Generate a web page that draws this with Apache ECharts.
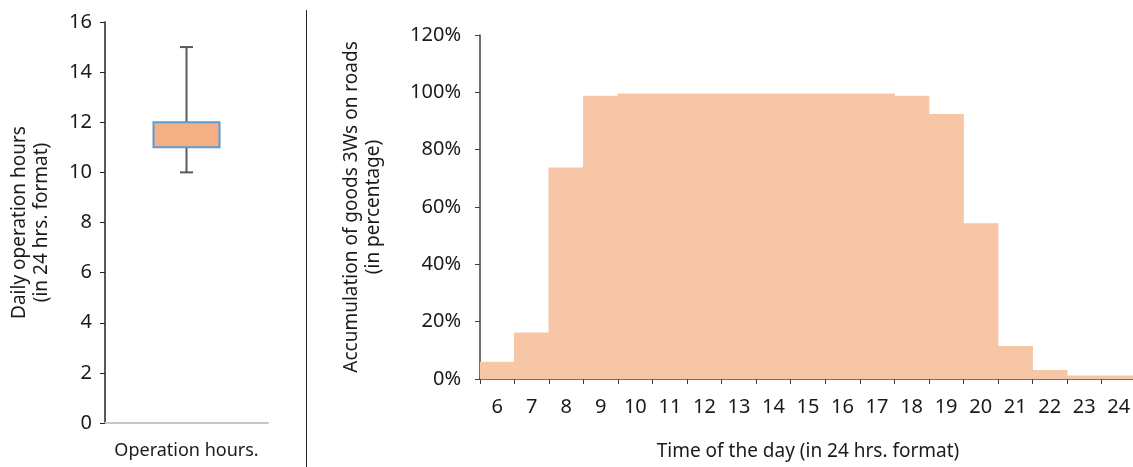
<!DOCTYPE html>
<html><head><meta charset="utf-8">
<script src="https://cdn.jsdelivr.net/npm/echarts@6/dist/echarts.min.js"></script>
<style>html,body{margin:0;padding:0;background:#fff}#c{width:1133px;height:467px}</style>
</head><body><div id="c"></div>
<script>
const boxCategories = ['Operation hours.'];
const boxStats = [[10, 11, 11.5, 12, 15]]; // min, Q1, median, Q3, max
const boxTicks = [0, 2, 4, 6, 8, 10, 12, 14, 16];

const hours = ['6','7','8','9','10','11','12','13','14','15','16','17','18','19','20','21','22','23','24'];
const accumulation = [6.0, 16.2, 73.8, 98.8, 99.6, 99.6, 99.6, 99.6, 99.6, 99.6, 99.6, 99.6, 98.8, 92.4, 54.3, 11.5, 3.1, 1.2, 1.2];

const FONT = 'Noto Sans';
const TXT = '#1a1a1a';
const chart = echarts.init(document.getElementById('c'), null, {renderer: 'canvas'});
chart.setOption({
  animation: false,
  textStyle: {fontFamily: FONT, color: TXT},
  graphic: [{type: 'line', shape: {x1: 306.5, y1: 10, x2: 306.5, y2: 467}, style: {stroke: '#222', lineWidth: 1}}],
  grid: [
    {left: 105, top: 22, width: 163, bottom: 44, outerBoundsMode: 'none', containLabel: false},
    {left: 480, top: 35, width: 656, bottom: 88, outerBoundsMode: 'none', containLabel: false}
  ],
  xAxis: [
    {gridIndex: 0, type: 'category', data: boxCategories,
     axisLine: {lineStyle: {color: '#c8c8c8', width: 2}}, axisTick: {show: false},
     axisLabel: {fontSize: 18, color: TXT, margin: 19, fontFamily: FONT}},
    {gridIndex: 1, type: 'category', data: hours, boundaryGap: true,
     axisLine: {lineStyle: {color: '#404040', width: 1.5}},
     axisTick: {show: true, length: 5, lineStyle: {color: '#404040'}},
     axisLabel: {fontSize: 20, color: TXT, margin: 18, fontFamily: FONT, interval: 0},
     name: 'Time of the day (in 24 hrs. format)', nameLocation: 'middle', nameGap: 63,
     nameTextStyle: {fontSize: 19, color: TXT, fontFamily: FONT}}
  ],
  yAxis: [
    {gridIndex: 0, type: 'value', min: 0, max: 16, interval: 2,
     axisLine: {show: true, lineStyle: {color: '#222', width: 1.5}},
     axisTick: {show: true, length: 5, lineStyle: {color: '#222'}},
     splitLine: {show: false},
     axisLabel: {fontSize: 20, color: TXT, margin: 13, fontFamily: FONT,
       formatter: v => boxTicks.includes(v) ? String(v) : ''},
     name: 'Daily operation hours\n(in 24 hrs. format)', nameLocation: 'middle', nameGap: 52, nameRotate: 90,
     nameTextStyle: {fontSize: 19, color: TXT, lineHeight: 22, fontFamily: FONT}},
    {gridIndex: 1, type: 'value', min: 0, max: 120, interval: 20,
     axisLine: {show: true, lineStyle: {color: '#404040', width: 1.5}},
     axisTick: {show: true, length: 5, lineStyle: {color: '#404040'}},
     splitLine: {show: false},
     axisLabel: {fontSize: 20, color: TXT, margin: 19, fontFamily: FONT, formatter: '{value}%'},
     name: 'Accumulation of goods 3Ws on roads\n(in percentage)', nameLocation: 'middle', nameGap: 95, nameRotate: 90,
     nameTextStyle: {fontSize: 19, color: TXT, lineHeight: 22, fontFamily: FONT}}
  ],
  series: [
    {type: 'custom', xAxisIndex: 0, yAxisIndex: 0, data: boxStats.map((s, i) => [i].concat(s)),
     renderItem: function (params, api) {
       const x = api.value(0);
       const pMin = api.coord([x, api.value(1)]);
       const pQ1 = api.coord([x, api.value(2)]);
       const pQ3 = api.coord([x, api.value(4)]);
       const pMax = api.coord([x, api.value(5)]);
       const bw = 66, cw = 13;
       const cx = pMin[0];
       const ls = {stroke: '#5a5a5a', lineWidth: 2};
       return {type: 'group', children: [
         {type: 'line', shape: {x1: cx, y1: pMin[1], x2: cx, y2: pQ1[1]}, style: ls},
         {type: 'line', shape: {x1: cx, y1: pQ3[1], x2: cx, y2: pMax[1]}, style: ls},
         {type: 'line', shape: {x1: cx - cw / 2, y1: pMin[1], x2: cx + cw / 2, y2: pMin[1]}, style: ls},
         {type: 'line', shape: {x1: cx - cw / 2, y1: pMax[1], x2: cx + cw / 2, y2: pMax[1]}, style: ls},
         {type: 'rect', shape: {x: cx - bw / 2, y: pQ3[1], width: bw, height: pQ1[1] - pQ3[1]},
          style: {fill: '#F4AF84', stroke: '#5B9BD5', lineWidth: 2}}
       ]};
     }},
    {type: 'bar', xAxisIndex: 1, yAxisIndex: 1, data: accumulation, barWidth: '103%',
     itemStyle: {color: '#F7C6A6'}}
  ]
});
</script></body></html>
